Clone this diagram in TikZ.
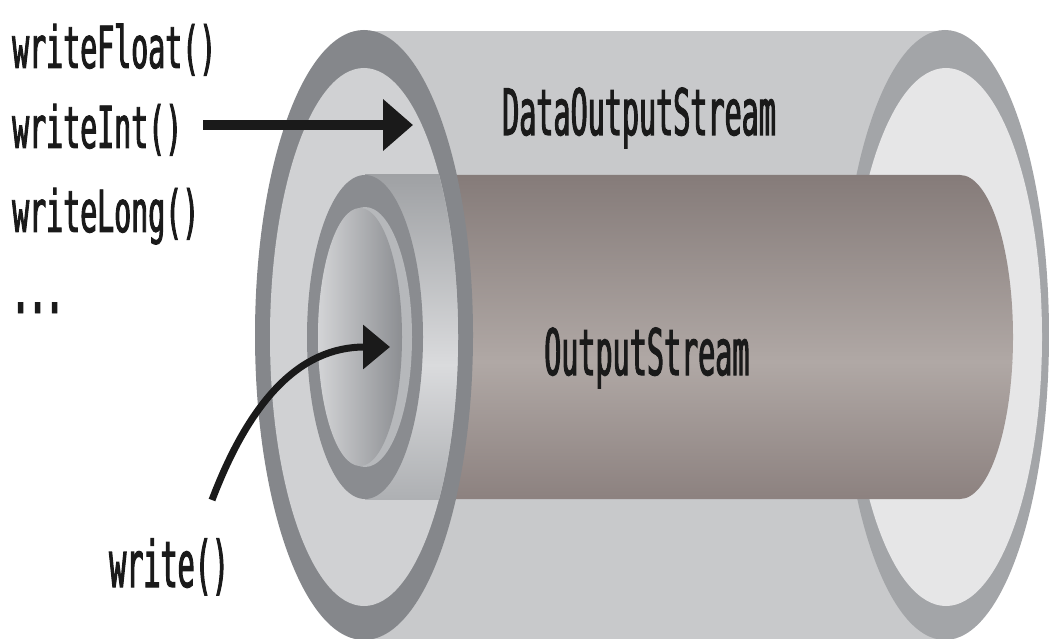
\documentclass[tikz,border=0pt]{standalone}
\usepackage{fontspec}
\usetikzlibrary{arrows.meta}

% condensed monospaced faces for method names and class names
\newfontfamily\methodfont[FakeStretch=0.487,FakeBold=1.6]{DejaVu Sans Mono}
\newfontfamily\classfont[FakeStretch=0.444,FakeBold=1.6]{DejaVu Sans Mono}

\definecolor{bodygray}{HTML}{C8C9CB}
\definecolor{farring}{HTML}{A3A5A8}
\definecolor{farinside}{HTML}{E6E6E7}
\definecolor{nearring}{HTML}{85878B}
\definecolor{nearface}{HTML}{D0D1D3}
\definecolor{browntop}{HTML}{857B79}
\definecolor{brownmid}{HTML}{B0A8A5}
\definecolor{brownbot}{HTML}{8C817F}
\definecolor{silvertop}{HTML}{9FA1A4}
\definecolor{silvermid}{HTML}{DADBDD}
\definecolor{silverbot}{HTML}{AEB0B3}
\definecolor{mouthring}{HTML}{8A8C90}
\definecolor{mouthband}{HTML}{B6B8BB}
\definecolor{mouthlight}{HTML}{D3D4D6}
\definecolor{mouthdark}{HTML}{8C8E92}
\definecolor{labelink}{HTML}{1A1A1A}

\begin{document}
\begin{tikzpicture}[x=1pt,y=-1pt,
  methodlabel/.style={anchor=base west, inner sep=0pt, text=labelink,
    font=\methodfont\fontsize{58}{58}\selectfont},
  classlabel/.style={anchor=base west, inner sep=0pt, text=labelink,
    font=\classfont\fontsize{64}{64}\selectfont},
  bigarrow/.style={draw=labelink, line width=10pt, -{Triangle[length=30pt,width=50pt]}},
  curvearrow/.style={draw=labelink, line width=7pt, -{Triangle[length=27pt,width=43pt]}}]
\useasboundingbox (0,0) rectangle (1049,639);

% outer tube (DataOutputStream) body
\fill[bodygray] (364,31) rectangle (945,640);

% far end of the outer tube
\fill[farring] (945,335) ellipse [x radius=104, y radius=305];
\fill[farinside] (946,337) ellipse [x radius=96, y radius=269];

% inner tube (OutputStream)
\begin{scope}
  \clip (365,175) -- (960,175)
    arc[start angle=-90, end angle=90, x radius=53, y radius=162]
    -- (365,499) -- cycle;
  \shade[top color=browntop, bottom color=brownmid] (360,174) rectangle (1020,362);
  \shade[top color=brownmid, bottom color=brownbot] (360,362) rectangle (1020,500);
\end{scope}

% near face of the outer tube
\fill[nearring] (364,335) ellipse [x radius=109, y radius=305];
\fill[nearface] (364,337) ellipse [x radius=94, y radius=269];

% inner tube seen inside the near opening
\begin{scope}
  \clip (364,337) ellipse [x radius=94, y radius=269];
  \shade[top color=silvertop, bottom color=silvermid] (365,175) rectangle (470,365);
  \shade[top color=silvermid, bottom color=silverbot] (365,365) rectangle (470,499);
\end{scope}

% mouth of the inner tube
\fill[mouthring] (365,337) ellipse [x radius=58, y radius=162];
\fill[mouthband] (365,337) ellipse [x radius=47, y radius=130];
\shade[left color=mouthlight, right color=mouthdark] (360,337) ellipse [x radius=42, y radius=129];

% labels
\node[methodlabel] (wf) at (12,68) {writeFloat()};
\node[methodlabel] (wi) at (12,148) {writeInt()};
\node[methodlabel] (wl) at (12,232) {writeLong()};
\node[methodlabel, font=\methodfont\bfseries\fontsize{58}{58}\selectfont] (more) at (12,313) {...};
\node[classlabel] (dos) at (502,135) {DataOutputStream};
\node[classlabel] (os) at (544,375) {OutputStream};
\node[classlabel] (wr) at (109,587) {write()};

% calls going into the streams
\coordinate (fromInts) at (203,125);
\coordinate (intoData) at (413,125);
\coordinate (fromWrite) at (212,500);
\coordinate (intoOutput) at (390,347);
\draw[bigarrow] (fromInts) -- (intoData);
\draw[curvearrow] (fromWrite) .. controls (250,400) and (300,347) .. (intoOutput);
\end{tikzpicture}
\end{document}
